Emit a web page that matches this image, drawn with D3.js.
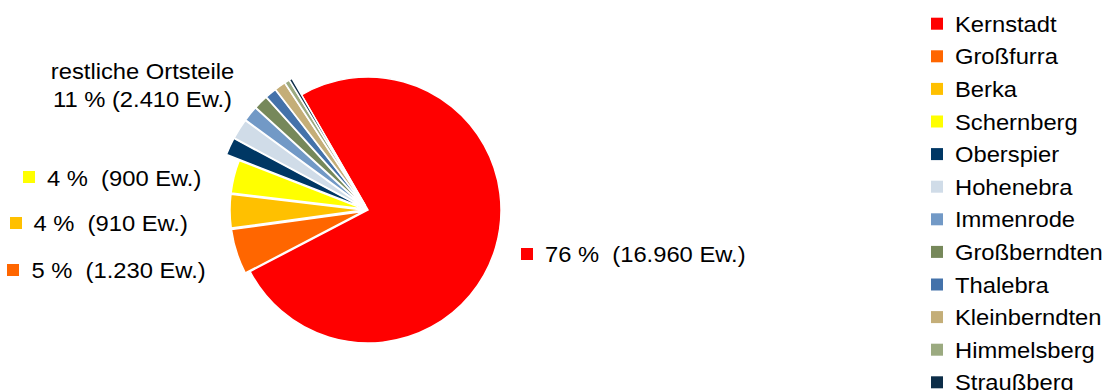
<!DOCTYPE html>
<html>
<head>
<meta charset="utf-8">
<script src="https://cdn.jsdelivr.net/npm/d3@7"></script>
<style>
  html, body { margin: 0; padding: 0; background: #fff; overflow: hidden; }
  text { font-family: "Liberation Sans", Arial, sans-serif; font-size: 22px; fill: #000; white-space: pre; }
</style>
</head>
<body>
<svg id="chart" width="1105" height="390"></svg>
<script>
// Einwohner nach Ortsteilen
const categories = ["Kernstadt", "Großfurra", "Berka", "Schernberg", "Oberspier", "Hohenebra",
                    "Immenrode", "Großberndten", "Thalebra", "Kleinberndten", "Himmelsberg", "Straußberg"];
const residents = [16960, 1230, 910, 900, 430, 500, 380, 350, 280, 270, 125, 75];
const colors = ["#ff0000", "#ff6600", "#ffc000", "#ffff00", "#003764", "#d0dce8",
                "#7299c6", "#76885a", "#4472aa", "#c4ae78", "#9baa80", "#0c2d48"];
// the smaller villages are summed up under one label
const otherCategories = categories.slice(4);
const otherLabel = "restliche Ortsteile";

const data = categories.map((name, i) => ({ name, value: residents[i], color: colors[i], index: i }));
const total = d3.sum(residents);

const de = d3.formatLocale({ decimal: ",", thousands: ".", grouping: [3], currency: ["", " €"] });
const fmtEw = de.format(",");
const pct = v => Math.round(v / total * 100);

const svg = d3.select("#chart");

// ---- pie ----
const cx = 368, cy = 210;
const rMain = 133, rOther = 147;
const isOther = d => otherCategories.includes(d.data.name);
const radiusOf = d => isOther(d) ? rOther : rMain;
const explodeOf = d => d.data.index === 0 ? 0 : 5;

const deg = Math.PI / 180;
const pie = d3.pie().sort(null).value(d => d.value)
  .startAngle(-30 * deg).endAngle(330 * deg);
const arcs = pie(data);
const arc = d3.arc().innerRadius(0).outerRadius(radiusOf);

const g = svg.append("g").attr("transform", `translate(${cx},${cy})`);
g.selectAll("path").data(arcs).join("path")
  .attr("d", arc)
  .attr("fill", d => d.data.color)
  .attr("stroke", "#fff")
  .attr("stroke-width", 1.5)
  .attr("transform", d => {
    const mid = (d.startAngle + d.endAngle) / 2, e = explodeOf(d);
    return `translate(${e * Math.sin(mid)},${-e * Math.cos(mid)})`;
  });

// ---- labels ----
const sx = 1.08;
function text(x, y, str, anchor = "start") {
  return svg.append("text")
    .attr("transform", `translate(${x},${y}) scale(${sx},1)`)
    .attr("text-anchor", anchor)
    .text(str);
}
function keyedLabel(i, sqX, sqY, tx, ty) {
  svg.append("rect").attr("x", sqX).attr("y", sqY).attr("width", 12).attr("height", 12)
    .attr("fill", colors[i]);
  text(tx, ty, `${pct(residents[i])} %  (${fmtEw(residents[i])} Ew.)`);
}
keyedLabel(0, 521, 248, 545, 261.5);
keyedLabel(3, 23, 171, 47, 185.5);
keyedLabel(2, 10, 217, 33.5, 231);
keyedLabel(1, 7, 264, 31.5, 278);

const otherSum = d3.sum(data.filter(d => otherCategories.includes(d.name)), d => d.value);
text(142.5, 79, otherLabel, "middle");
text(142.5, 106.5, `${pct(otherSum)} % (${fmtEw(otherSum)} Ew.)`, "middle");

// ---- legend ----
const legend = svg.append("g");
const step = 32.6;
categories.forEach((name, i) => {
  legend.append("rect").attr("x", 931).attr("y", 17.7 + i * step)
    .attr("width", 12).attr("height", 12).attr("fill", colors[i]);
  text(955, 31.7 + i * step, name);
});
</script>
</body>
</html>
